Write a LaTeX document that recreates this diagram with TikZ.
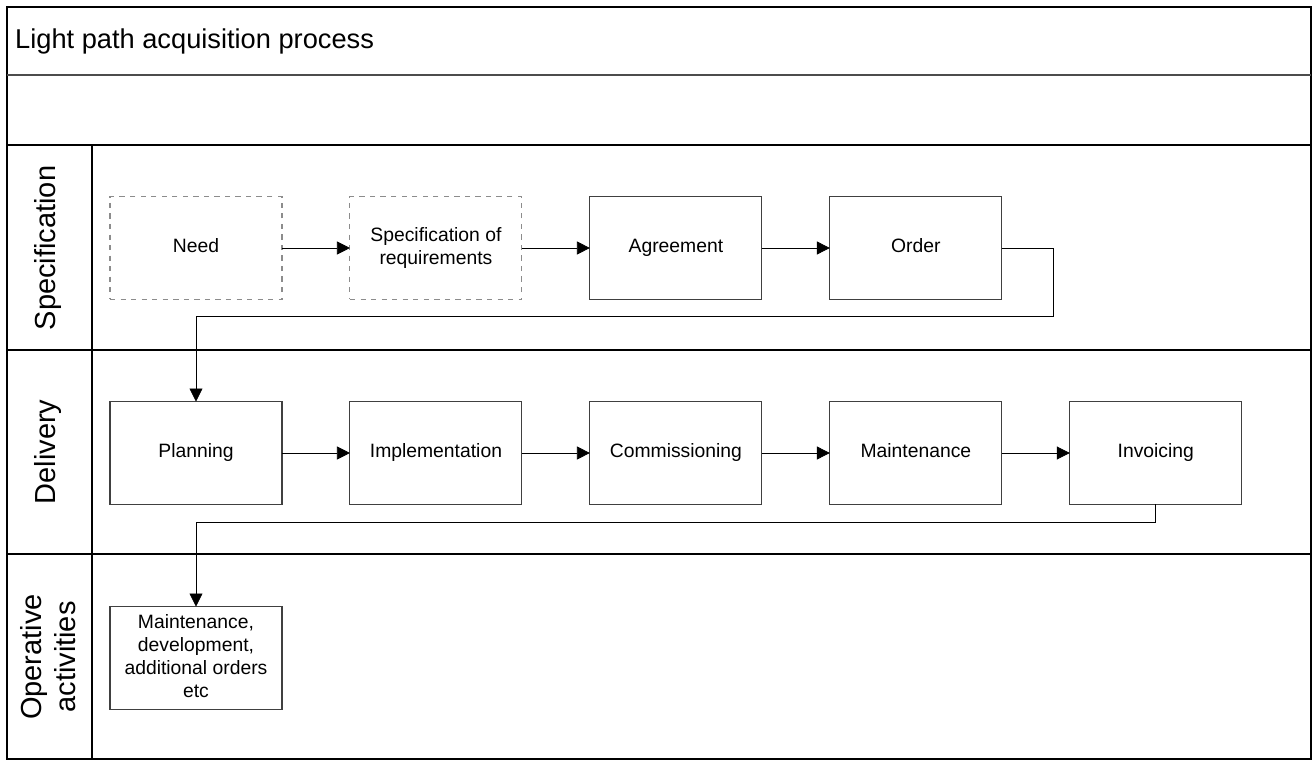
\documentclass[tikz,border=0pt]{standalone}
\usepackage{fontspec}
\setmainfont{Liberation Sans}
\usetikzlibrary{arrows.meta,positioning,calc}
\tikzset{%
  >={Triangle[width=2.6mm,length=2.6mm]},
  % Specifications for style of nodes:
            base/.style = {rectangle, draw=black!75, line width=0.6pt, outer sep=0pt,
                           minimum width=3.44cm, minimum height=2.06cm,
                           text centered, font=\fontsize{11}{13}\selectfont,
                           execute at begin node=\vphantom{Ag}},
            draft/.style = {base, draw=black!45, dashed},
            lane/.style  = {line width=1pt, draw=black},
            lanetitle/.style = {rotate=90, align=center,
                           font=\fontsize{16.5}{19}\selectfont}
                           }

\begin{document}
\begin{tikzpicture}[x=0.02cm, y=-0.02cm, node distance=1.36cm, align=center]
    \useasboundingbox (0,0) rectangle (1313,760);

    % swimlane frame
    \draw[lane] (7,7) rectangle (1311,759);
    \draw[lane, draw=black!70] (7,75) -- (1311,75);
    \draw[lane] (7,145) -- (1311,145);
    \draw[lane] (7,350) -- (1311,350);
    \draw[lane] (7,554) -- (1311,554);
    \draw[lane] (92,145) -- (92,759);

    \node (title) [anchor=west, font=\fontsize{15.5}{18}\selectfont] at (9,41) {Light path acquisition process};
    \node (specl) [lanetitle] at (48,248) {Specification};
    \node (dell)  [lanetitle] at (48,452) {Delivery};
    \node (opl)   [lanetitle] at (48,657) {Operative\\activities};

    % specification lane
    \node (need)      [draft] at (196,248)           {Need};
    \node (spec)      [draft, right=of need]         {Specification of\\requirements};
    \node (agreement) [base, right=of spec]          {Agreement};
    \node (order)     [base, right=of agreement]     {Order};

    % delivery lane
    \node (planning)  [base] at (196,453)            {Planning};
    \node (impl)      [base, right=of planning]      {Implementation};
    \node (comm)      [base, right=of impl]          {Commissioning};
    \node (maint)     [base, right=of comm]          {Maintenance};
    \node (invoicing) [base, right=of maint]         {Invoicing};

    % operative lane
    \node (operative) [base] at (196,658)            {Maintenance,\\development,\\additional orders\\etc};

    \coordinate (orderbend) at (1053,316);
    \coordinate (invbend)   at ($(invoicing.south)+(0,18)$);

    \draw[->] (need) -- (spec);
    \draw[->] (spec) -- (agreement);
    \draw[->] (agreement) -- (order);
    \draw[->] (order.east) -| (orderbend) -| (planning.north);

    \draw[->] (planning) -- (impl);
    \draw[->] (impl) -- (comm);
    \draw[->] (comm) -- (maint);
    \draw[->] (maint) -- (invoicing);
    \draw[->] (invoicing.south) -- (invbend) -| (operative.north);
\end{tikzpicture}
\end{document}
